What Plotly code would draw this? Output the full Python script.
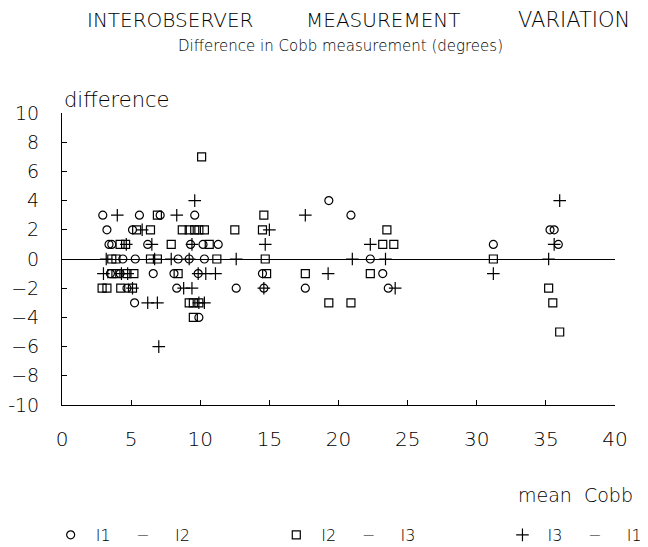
import plotly.graph_objects as go

# Series: I1 - I2 (circles)
i12_x = [19.3, 2.95, 5.6, 7.1, 9.6, 20.9, 3.25, 5.1, 35.3, 35.6,
         3.4, 3.6, 6.2, 9.3, 10.2, 11.3, 31.2, 35.9,
         4.4, 5.3, 8.4, 9.2, 10.3, 22.3,
         3.5, 4.2, 6.6, 8.1, 9.85, 14.5, 23.2,
         4.7, 8.3, 12.6, 14.6, 17.6, 23.6,
         5.25, 9.9]
i12_y = [4, 3, 3, 3, 3, 3, 2, 2, 2, 2,
         1, 1, 1, 1, 1, 1, 1, 1,
         0, 0, 0, 0, 0, 0,
         -1, -1, -1, -1, -1, -1, -1,
         -2, -2, -2, -2, -2, -2,
         -3, -4]

# Series: I2 - I3 (squares)
i23_x = [10.1, 6.9, 14.6,
         5.4, 6.4, 8.7, 9.2, 9.6, 9.9, 10.3, 12.5, 14.5, 23.5,
         4.2, 4.6, 7.9, 10.65, 23.2, 24.0,
         3.6, 3.9, 6.4, 6.9, 11.2, 14.7, 31.2,
         3.6, 3.9, 4.7, 5.2, 8.4, 14.8, 17.6, 22.3,
         2.9, 3.25, 4.25, 5.1, 35.2,
         9.2, 9.5, 9.9, 19.3, 20.9, 35.5,
         9.5, 36.0]
i23_y = [7, 3, 3,
         2, 2, 2, 2, 2, 2, 2, 2, 2, 2,
         1, 1, 1, 1, 1, 1,
         0, 0, 0, 0, 0, 0, 0,
         -1, -1, -1, -1, -1, -1, -1, -1,
         -2, -2, -2, -2, -2,
         -3, -3, -3, -3, -3, -3,
         -4, -5]

# Series: I3 - I1 (crosses)
i31_x = [9.6, 36.0, 4.0, 8.3, 17.6, 5.8, 15.0,
         4.65, 6.5, 9.4, 14.7, 22.3, 35.6,
         3.2, 6.7, 7.9, 9.2, 12.6, 21.0, 23.4, 35.2,
         3.0, 4.3, 4.75, 9.85, 10.4, 11.1, 19.25, 31.2,
         5.1, 8.8, 9.4, 14.6, 24.1,
         6.2, 6.9, 9.9, 10.3,
         7.0]
i31_y = [4, 4, 3, 3, 3, 2, 2,
         1, 1, 1, 1, 1, 1,
         0, 0, 0, 0, 0, 0, 0, 0,
         -1, -1, -1, -1, -1, -1, -1, -1,
         -2, -2, -2, -2, -2,
         -3, -3, -3, -3,
         -6]

x_ticks = [0, 5, 10, 15, 20, 25, 30, 35, 40]
y_ticks = [-10, -8, -6, -4, -2, 0, 2, 4, 6, 8, 10]
y_ticktext = ["-10", "\u22128", "\u22126", "\u22124", "\u22122", "0", "2", "4", "6", "8", "10"]

NB = "\u00a0"
SP = NB * 5
names = [NB + "I1" + SP + "\u2212" + SP + "I2",
         NB + "I2" + SP + "\u2212" + SP + "I3",
         NB + "I3" + SP + "\u2212" + SP + "I1"]

FONT = "DejaVu Sans"
mk_line = dict(width=1.2, color="black")
fig = go.Figure()
fig.add_trace(go.Scatter(x=i12_x, y=i12_y, mode="markers", name=names[0], legend="legend",
                         marker=dict(symbol="circle-open", size=8, color="black", line=mk_line)))
fig.add_trace(go.Scatter(x=i23_x, y=i23_y, mode="markers", name=names[1], legend="legend2",
                         marker=dict(symbol="square-open", size=8, color="black", line=mk_line)))
fig.add_trace(go.Scatter(x=i31_x, y=i31_y, mode="markers", name=names[2], legend="legend3",
                         marker=dict(symbol="cross-thin-open", size=9, color="black", line=mk_line)))

def leg(xpos):
    return dict(orientation="h", x=xpos, y=-0.445, xanchor="left", yanchor="middle",
                font=dict(size=16, family=FONT, weight=200), bgcolor="rgba(0,0,0,0)")

# page body has an 8px margin, so the figure is sized to the visible area
fig.update_layout(
    width=640, height=539,
    margin=dict(l=54, r=33, t=105, b=142, autoexpand=False),
    paper_bgcolor="white", plot_bgcolor="white",
    font=dict(family=FONT, color="black", weight=200),
    showlegend=True,
    legend=leg(-0.0205), legend2=leg(0.3875), legend3=leg(0.7965),
    xaxis=dict(range=[0, 40], tickvals=x_ticks, showline=True, linecolor="black",
               linewidth=1, ticks="inside", ticklen=5, tickcolor="black",
               showgrid=False, zeroline=False, ticklabelstandoff=16, automargin=False,
               tickfont=dict(size=20, family=FONT, weight=200)),
    yaxis=dict(range=[-10, 10], tickvals=y_ticks, ticktext=y_ticktext, showline=True,
               linecolor="black", linewidth=1, ticks="inside", ticklen=5,
               tickcolor="black", showgrid=False, zeroline=True, automargin=False,
               zerolinecolor="black", zerolinewidth=1, ticklabelstandoff=18,
               tickfont=dict(size=19, family=FONT, weight=200)),
)

ann = [
    dict(text="INTEROBSERVER", x=0.195, y=1.317, size=20),
    dict(text="MEASUREMENT", x=0.582, y=1.317, size=20),
    dict(text="VARIATION", x=0.925, y=1.317, size=21),
    dict(text="Difference in Cobb measurement (degrees)", x=0.503, y=1.228, size=15),
]
for a in ann:
    fig.add_annotation(text=a["text"], x=a["x"], y=a["y"], xref="paper", yref="paper",
                       xanchor="center", yanchor="middle", showarrow=False,
                       font=dict(size=a["size"], family=FONT, weight=200))
fig.add_annotation(text="difference", x=0.0, y=1.045, xref="paper", yref="paper",
                   xanchor="left", yanchor="middle", showarrow=False,
                   font=dict(size=21, family=FONT, weight=200))
fig.add_annotation(text="mean" + NB * 2 + "Cobb", x=1.036, y=-0.308, xref="paper", yref="paper",
                   xanchor="right", yanchor="middle", showarrow=False,
                   font=dict(size=19, family=FONT, weight=200))

fig.write_html("out.html")
